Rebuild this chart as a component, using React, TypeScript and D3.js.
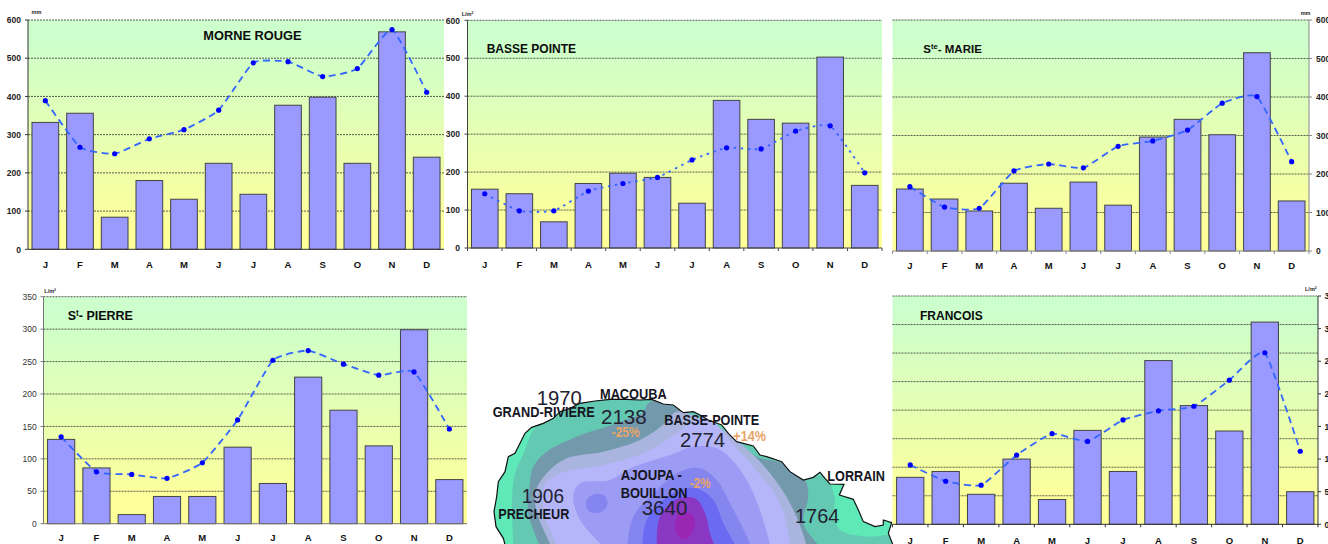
import React from "react";
import * as d3 from "d3";

const months = ["J", "F", "M", "A", "M", "J", "J", "A", "S", "O", "N", "D"];

const morneRougeBars = [332, 356, 84, 180, 131, 225, 144, 377, 398, 225, 569, 241];
const morneRougeLine = [389, 267, 250, 289, 313, 364, 488, 491, 452, 473, 575, 411];
const bassePointeBars = [155, 143, 69, 170, 197, 186, 118, 389, 339, 329, 503, 165];
const bassePointeLine = [143, 98, 98, 150, 170, 186, 232, 264, 261, 308, 322, 198];
const sainteMarieBars = [161, 135, 104, 176, 111, 179, 119, 296, 342, 302, 515, 130];
const sainteMarieLine = [167, 114, 111, 208, 226, 216, 272, 286, 314, 384, 401, 232];
const saintPierreBars = [130, 86, 14, 42, 42, 118, 62, 226, 175, 120, 299, 68];
const saintPierreLine = [134, 80, 76, 70, 94, 160, 252, 267, 246, 229, 234, 146];
const francoisBars = [72, 81, 46, 100, 38, 144, 81, 251, 182, 143, 310, 50];
const francoisLine = [91, 66, 60, 106, 139, 127, 160, 174, 181, 221, 263, 112];

const ticks600 = [0, 100, 200, 300, 400, 500, 600];
const ticks350 = [0, 50, 100, 150, 200, 250, 300, 350];

type P = [number, number];

const coast: P[] = [[112, 640], [100, 595], [78, 560], [72, 515], [80, 470], [85, 425], [105, 395], [115, 350], [135, 340], [150, 310], [165, 280], [185, 262], [220, 250], [250, 235], [270, 215], [300, 205], [330, 190], [375, 183], [420, 178], [470, 178], [510, 180], [545, 178], [580, 192], [610, 195], [640, 218], [670, 215], [690, 225], [715, 240], [755, 255], [775, 280], [800, 305], [850, 318], [870, 345], [890, 350], [935, 365], [960, 395], [1000, 420], [1030, 412], [1050, 397], [1065, 415], [1080, 432], [1122, 433], [1108, 465], [1150, 478], [1165, 510], [1180, 545], [1215, 560], [1240, 555], [1240, 540], [1265, 548], [1255, 580], [1268, 612], [1268, 660], [112, 660]];

const tealBand: P[] = [[130, 640], [128, 560], [126, 480], [135, 400], [165, 330], [190, 270], [270, 205], [380, 170], [550, 165], [700, 230], [880, 340], [1000, 410], [1065, 410], [1095, 480], [1090, 520], [1110, 570], [1190, 590], [1300, 590], [1300, 680], [130, 680]];
const greyBand: P[] = [[215, 640], [175, 520], [180, 430], [190, 380], [230, 335], [320, 290], [440, 250], [520, 215], [535, 190], [560, 180], [600, 195], [650, 220], [700, 240], [860, 350], [940, 370], [1005, 420], [1015, 470], [1000, 550], [1060, 640], [1060, 680], [215, 680]];
const paleBand: P[] = [[250, 640], [205, 530], [195, 460], [230, 400], [290, 355], [400, 335], [510, 300], [585, 250], [620, 215], [700, 240], [760, 270], [865, 360], [930, 440], [975, 520], [1015, 640], [1015, 680], [250, 680]];
const lilacBand: P[] = [[270, 640], [225, 530], [222, 440], [270, 400], [400, 375], [520, 340], [620, 280], [680, 238], [720, 238], [795, 320], [850, 380], [930, 490], [965, 640], [965, 680], [270, 680]];
const violetBand: P[] = [[410, 640], [330, 540], [310, 470], [330, 430], [420, 420], [480, 385], [600, 345], [670, 320], [740, 325], [795, 370], [850, 460], [905, 640], [905, 680], [410, 680]];
const blob: P[] = [[350, 480], [375, 462], [405, 468], [412, 495], [395, 515], [365, 518], [350, 505]];
const deepBand: P[] = [[470, 640], [490, 530], [545, 465], [630, 395], [690, 385], [740, 420], [780, 490], [850, 640], [850, 680], [470, 680]];
const blueBand: P[] = [[515, 640], [530, 540], [580, 480], [630, 450], [680, 445], [730, 480], [760, 550], [805, 640], [805, 680], [515, 680]];
const purpleBand: P[] = [[560, 640], [570, 530], [620, 478], [675, 475], [705, 520], [720, 580], [740, 640], [740, 680], [560, 680]];
const purpleCore: P[] = [[620, 530], [622, 585], [648, 598], [672, 565], [672, 530], [645, 515]];

const bandFills = [
  { points: tealBand, fill: "#63c9b2" },
  { points: greyBand, fill: "#7299ac" },
  { points: paleBand, fill: "#a9b5de" },
  { points: lilacBand, fill: "#b5b5f9" },
  { points: violetBand, fill: "#9c9cf4" },
  { points: blob, fill: "#8585f0" },
  { points: deepBand, fill: "#8585f0" },
  { points: blueBand, fill: "#6a6af2" },
  { points: purpleBand, fill: "#8a38c4" },
  { points: purpleCore, fill: "#9a28b4" },
];

const mapBold = "#15151f";
const mapOrange = "#e8a468";
const mapLabels = [
  { t: "1970", x: 536.7, y: 405, w: 45, s: 20, b: 0, c: "#222233" },
  { t: "GRAND-RIVIERE", x: 492.7, y: 417.3, w: 102, s: 14.5, b: 1, c: mapBold },
  { t: "MACOUBA", x: 600, y: 399, w: 66.7, s: 14.5, b: 1, c: mapBold },
  { t: "2138", x: 601, y: 423.7, w: 45.7, s: 20, b: 0, c: "#222233" },
  { t: "-25%", x: 611.7, y: 437.3, w: 28, s: 14, b: 1, c: mapOrange },
  { t: "BASSE-POINTE", x: 664.3, y: 425, w: 95, s: 14.5, b: 1, c: mapBold },
  { t: "2774", x: 680, y: 446.7, w: 45, s: 20, b: 0, c: "#222233" },
  { t: "+14%", x: 733.3, y: 441, w: 32.7, s: 14, b: 1, c: mapOrange },
  { t: "AJOUPA -", x: 620.7, y: 480.3, w: 61.3, s: 14.5, b: 1, c: mapBold },
  { t: "BOUILLON", x: 620.7, y: 498, w: 66.7, s: 14.5, b: 1, c: mapBold },
  { t: "3640", x: 641.7, y: 514.7, w: 45.7, s: 20, b: 0, c: "#222233" },
  { t: "-2%", x: 690, y: 488.3, w: 20.7, s: 14, b: 1, c: mapOrange },
  { t: "1906", x: 521.7, y: 503.3, w: 42.3, s: 20, b: 0, c: "#222233" },
  { t: "PRECHEUR", x: 498.3, y: 518.7, w: 71, s: 14.5, b: 1, c: mapBold },
  { t: "LORRAIN", x: 827.3, y: 481, w: 57.7, s: 14.5, b: 1, c: mapBold },
  { t: "1764", x: 795, y: 523.3, w: 44.3, s: 20, b: 0, c: "#222233" },
];

const font = "'Liberation Sans', Arial, sans-serif";

const panels = [
  { id: "mr", title: ["MORNE ROUGE"], tx: 203.3, ty: 39.7, ts: 12.8, x0: 28, x1: 444, y0: 249.3, y1: 20, bars: morneRougeBars, line: morneRougeLine, max: 600, ticks: ticks600, gridN: 6, side: "left", labelW: "bold", labelC: "#222", labelX: 21, monthY: 267.7, unit: "mm", ux: 31.5, uy: 14, xTicks: false, axisC: "#333", dash: "7 4.5" },
  { id: "bp", title: ["BASSE POINTE"], tx: 486.7, ty: 53.3, ts: 12, x0: 467.5, x1: 882, y0: 248, y1: 20.3, bars: bassePointeBars, line: bassePointeLine, max: 600, ticks: ticks600, gridN: 6, side: "left", labelW: "bold", labelC: "#222", labelX: 460, monthY: 267.7, unit: "L/m²", ux: 461.7, uy: 15.5, xTicks: true, axisC: "#444", dash: "2.5 4.5" },
  { id: "sm", title: ["S", "te", "- MARIE"], tx: 923.3, ty: 53.3, ts: 11.5, x0: 892.5, x1: 1309, y0: 251, y1: 20, bars: sainteMarieBars, line: sainteMarieLine, max: 600, ticks: ticks600, gridN: 6, side: "right", labelW: "bold", labelC: "#222", labelX: 1316, monthY: 269.3, unit: "mm", ux: 1300.7, uy: 15, xTicks: true, axisC: "#888", dash: "7 4.5" },
  { id: "sp", title: ["S", "t", "- PIERRE"], tx: 67.7, ty: 320, ts: 12.5, x0: 43.5, x1: 467, y0: 523.7, y1: 296.7, bars: saintPierreBars, line: saintPierreLine, max: 350, ticks: ticks350, gridN: 7, side: "left", labelW: "normal", labelC: "#333", labelX: 36.7, monthY: 541.3, unit: "L/m²", ux: 44.3, uy: 292.5, xTicks: false, axisC: "#777", dash: "7 4.5" },
  { id: "fr", title: ["FRANCOIS"], tx: 920, ty: 320, ts: 12, x0: 892.5, x1: 1318, y0: 524.3, y1: 296, bars: francoisBars, line: francoisLine, max: 350, ticks: ticks350, gridN: 8, side: "right", labelW: "bold", labelC: "#222", labelX: 1324.5, monthY: 543.5, unit: "L/m²", ux: 1305, uy: 290.7, xTicks: true, axisC: "#333", dash: "7 4.5" },
];

type Panel = (typeof panels)[number];

function Chart({ p }: { p: Panel }) {
  const x = d3.scaleBand<number>().domain(d3.range(12)).range([p.x0, p.x1]).paddingInner(0.23).paddingOuter(0.115);
  const y = d3.scaleLinear().domain([0, p.max]).range([p.y0, p.y1]);
  const gridY = d3.scaleLinear().domain([0, p.gridN]).range([p.y0, p.y1]);
  const cx = (i: number) => (x(i) as number) + x.bandwidth() / 2;
  const lineGen = d3.line<number>().x((_, i) => cx(i)).y((d) => y(d)).curve(d3.curveCardinal.tension(0.55));
  const axisX = p.side === "left" ? p.x0 : p.x1;
  const tickDir = p.side === "left" ? -1 : 1;
  const step = (p.x1 - p.x0) / 12;
  return (
    <g fontFamily={font}>
      <defs>
        <linearGradient id={"bg-" + p.id} x1="0" y1="0" x2="0" y2="1">
          <stop offset="0.08" stopColor="#ccffcc" />
          <stop offset="0.92" stopColor="#ffff99" />
        </linearGradient>
      </defs>
      <rect x={p.x0} y={p.y1} width={p.x1 - p.x0} height={p.y0 - p.y1} fill={`url(#bg-${p.id})`} />
      {d3.range(1, p.gridN + 1).map((k) => (
        <line key={k} x1={p.x0} x2={p.x1} y1={gridY(k)} y2={gridY(k)} stroke="#333" strokeWidth={0.8} strokeDasharray="2 1" />
      ))}
      {p.bars.map((v, i) => (
        <rect key={i} x={x(i)} y={y(v)} width={x.bandwidth()} height={p.y0 - y(v)} fill="#9999ff" stroke="#444" strokeWidth={1} />
      ))}
      <line x1={p.x0} x2={p.x1} y1={p.y0} y2={p.y0} stroke={p.axisC} strokeWidth={1} />
      <line x1={axisX} x2={axisX} y1={p.y1} y2={p.y0} stroke={p.axisC} strokeWidth={1} />
      {p.xTicks && d3.range(13).map((k) => (
        <line key={k} x1={p.x0 + k * step} x2={p.x0 + k * step} y1={p.y0} y2={p.y0 + 3} stroke={p.axisC} strokeWidth={1} />
      ))}
      {p.ticks.map((t) => (
        <g key={t}>
          <line x1={axisX} x2={axisX + tickDir * 3} y1={y(t)} y2={y(t)} stroke={p.axisC} strokeWidth={1} />
          <text x={p.labelX} y={y(t) + 3.2} fontSize={8.5} fontWeight={p.labelW} fill={p.labelC} textAnchor={p.side === "left" ? "end" : "start"}>{t}</text>
        </g>
      ))}
      <path d={lineGen(p.line) as string} fill="none" stroke="#3366ff" strokeWidth={1.8} strokeDasharray={p.dash} />
      {p.line.map((v, i) => (
        <circle key={i} cx={cx(i)} cy={y(v)} r={2.6} fill="#0000ff" />
      ))}
      {months.map((m, i) => (
        <text key={i} x={cx(i)} y={p.monthY} fontSize={9.5} fontWeight="bold" fill="#111" textAnchor="middle">{m}</text>
      ))}
      <text x={p.ux} y={p.uy} fontSize={5.5} fontWeight="bold" fill="#222">{p.unit}</text>
      <text x={p.tx} y={p.ty} fontSize={p.ts} fontWeight="bold" fill="#0c0c0c">
        {p.title.length === 1 ? p.title[0] : (
          <>
            {p.title[0]}
            <tspan dy={-4} fontSize={p.ts * 0.66}>{p.title[1]}</tspan>
            <tspan dy={4}>{p.title[2]}</tspan>
          </>
        )}
      </text>
    </g>
  );
}

function MapInset() {
  const mx = d3.scaleLinear().domain([0, 1290]).range([470, 900]);
  const my = d3.scaleLinear().domain([0, 612]).range([340, 544]);
  const poly = d3.line<P>().x((d) => mx(d[0])).y((d) => my(d[1]));
  const smooth = d3.line<P>().x((d) => mx(d[0])).y((d) => my(d[1])).curve(d3.curveCatmullRomClosed.alpha(0.5));
  const coastD = (poly(coast) as string) + "Z";
  return (
    <g fontFamily={font}>
      <defs>
        <clipPath id="coast-clip"><path d={coastD} /></clipPath>
        <filter id="soft" x="-5%" y="-5%" width="110%" height="110%"><feGaussianBlur stdDeviation="0.6" /></filter>
      </defs>
      <g filter="url(#soft)">
        <path d={coastD} fill="#5fe8b8" />
        <g clipPath="url(#coast-clip)">
          {bandFills.map((b, i) => (
            <path key={i} d={smooth(b.points) as string} fill={b.fill} />
          ))}
        </g>
        <path d={coastD} fill="none" stroke="#111" strokeWidth={1.2} />
      </g>
      {mapLabels.map((l, i) => (
        <text key={i} x={l.x} y={l.y} fontSize={l.s} fontWeight={l.b ? "bold" : "normal"} fill={l.c} textLength={l.w} lengthAdjust="spacingAndGlyphs">{l.t}</text>
      ))}
    </g>
  );
}

export default function App() {
  return (
    <svg width={1328} height={544} viewBox="0 0 1328 544" style={{ position: "absolute", left: 0, top: 0, display: "block", background: "#fff" }}>
      <MapInset />
      {panels.map((p) => <Chart key={p.id} p={p} />)}
    </svg>
  );
}
